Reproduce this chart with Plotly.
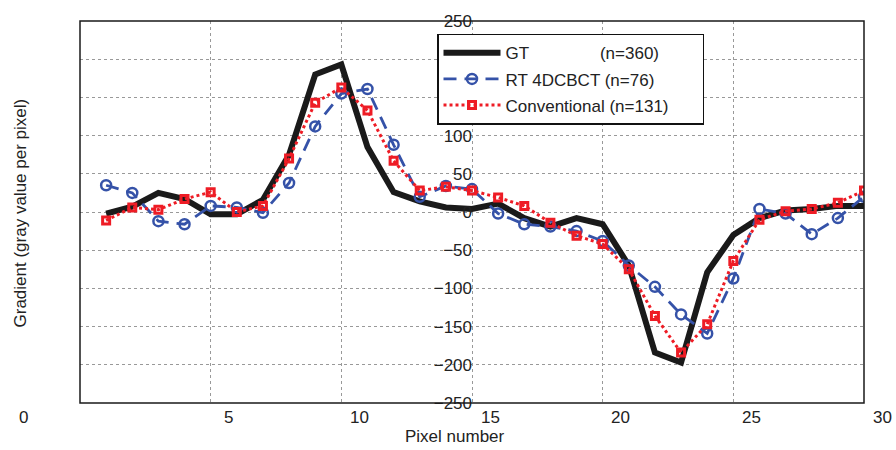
import plotly.graph_objects as go

pixel = list(range(1, 31))
gt = [-2, 7, 25, 17, -3, -3, 16, 75, 180, 193, 85, 26, 14, 6, 4, 11, -8, -19, -8, -16,
      -70, -184, -197, -79, -30, -8, 2, 4, 8, 8]
rt4d = [35, 25, -12, -16, 8, 6, -1, 38, 112, 155, 161, 88, 20, 34, 30, -2, -16, -19, -25, -38,
        -70, -98, -134, -159, -87, 4, -2, -29, -8, 20]
conv = [-11, 6, 3, 17, 26, 0, 8, 70, 143, 163, 133, 67, 28, 33, 28, 19, 8, -14, -31, -42,
        -75, -136, -184, -147, -64, -10, 1, 4, 12, 28]

x_ticks = [0, 5, 10, 15, 20, 25, 30]
y_ticks = [-250, -200, -150, -100, -50, 0, 50, 100, 150, 200, 250]
names = ["GT" + "\u00a0" * 15 + "(n=360)", "RT 4DCBCT (n=76)",
         "Conventional (n=131)" + "\u00a0" * 6]

BLUE = "#3552a8"
RED = "#ee1c25"
FONT = "Liberation Sans, Arial, sans-serif"

fig = go.Figure()
fig.add_trace(go.Scatter(x=pixel, y=gt, mode="lines", name=names[0], legendgroup="a",
                         line=dict(color="#1a1a1a", width=6)))
fig.add_trace(go.Scatter(x=pixel, y=rt4d, mode="lines+markers", name=names[1], legendgroup="b",
                         line=dict(color=BLUE, width=2.8, dash="13px,8px"),
                         marker=dict(symbol="circle-open", size=10, color=BLUE,
                                     line=dict(width=2.5, color=BLUE))))
fig.add_trace(go.Scatter(x=pixel, y=conv, mode="lines+markers", name=names[2], legendgroup="c",
                         line=dict(color=RED, width=3, dash="dot"),
                         marker=dict(symbol="square-open", size=7, color=RED,
                                     line=dict(width=3, color=RED))))

annotations = []
for v in x_ticks:
    annotations.append(dict(x=v, xref="x", y=0, yref="paper", yshift=-14,
                            xshift=(-57 if v == 0 else 18), text=str(v), showarrow=False,
                            xanchor="center", yanchor="middle",
                            font=dict(size=17, color="#222", family=FONT)))
annotations.append(dict(x=(455 - 80) / 784, xref="paper", y=(403 - 437) / 389, yref="paper",
                        text="Pixel number", showarrow=False, xanchor="center", yanchor="middle",
                        font=dict(size=17, color="#222", family=FONT)))
annotations.append(dict(x=(20 - 80) / 784, xref="paper", y=(403 - 210) / 389, yref="paper",
                        text="Gradient (gray value per pixel)", showarrow=False, textangle=-90,
                        xanchor="center", yanchor="middle",
                        font=dict(size=17, color="#222", family=FONT)))

fig.update_layout(
    width=896, height=450,
    margin=dict(l=80, r=32, t=14, b=47),
    paper_bgcolor="white", plot_bgcolor="white",
    font=dict(family=FONT, size=17, color="#222"),
    showlegend=True,
    legend=dict(x=(437 - 80) / 784, y=(403 - 27) / 389, xanchor="left", yanchor="top",
                bgcolor="white", bordercolor="#111", borderwidth=1.5,
                font=dict(size=17, family=FONT, color="#222"),
                traceorder="grouped", tracegroupgap=1, itemwidth=57),
    xaxis=dict(range=[0, 30], tickvals=x_ticks[1:-1], showticklabels=False, ticks="",
               showgrid=True, gridcolor="#999", griddash="dot", gridwidth=1,
               zeroline=False, showline=False),
    yaxis=dict(range=[-250, 250], tickvals=y_ticks, ticks="", anchor="free", position=0.5,
               showgrid=True, gridcolor="#999", griddash="dot", gridwidth=1,
               zeroline=False, showline=False,
               tickfont=dict(size=17, family=FONT, color="#222")),
    annotations=annotations,
    shapes=[dict(type="rect", xref="paper", yref="paper", x0=0, x1=1, y0=0, y1=1,
                 line=dict(color="#1a1a1a", width=1.5), layer="above")],
)

fig.write_html("out.html")
